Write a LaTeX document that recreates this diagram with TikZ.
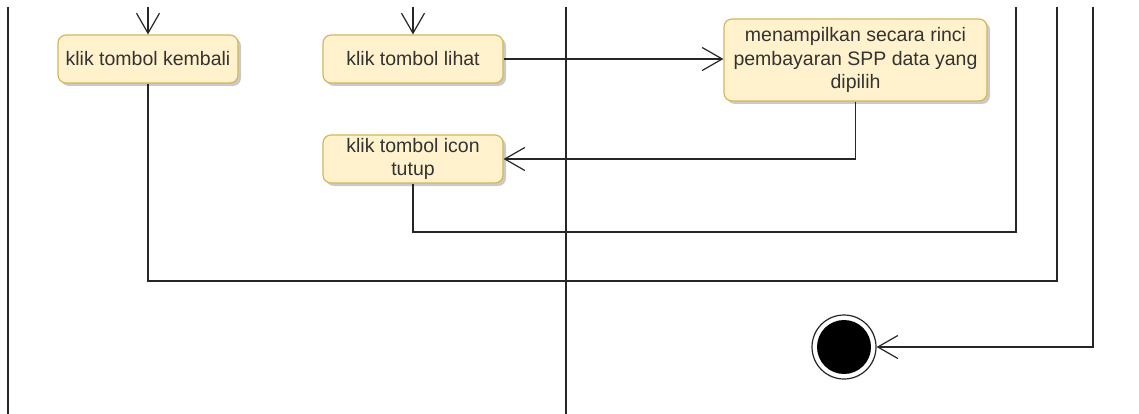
\documentclass[tikz,border=0pt]{standalone}
\usepackage{fontspec}
\setmainfont{Liberation Sans}
\usetikzlibrary{arrows.meta,shadows}
\definecolor{boxfill}{HTML}{FFF2CC}
\definecolor{boxline}{HTML}{D6B656}
\definecolor{txt}{HTML}{333333}
\tikzset{
  actbox/.style={rectangle, rounded corners=8pt, draw=boxline, fill=boxfill, line width=1.2pt,
    minimum width=180pt, minimum height=48pt, inner sep=2pt, align=center, text=txt,
    font=\fontsize{19.5}{23.5}\selectfont,
    drop shadow={shadow xshift=3pt, shadow yshift=-3pt, fill=black!35, opacity=0.6}},
  flow/.style={line width=1.2pt, draw=black!85},
  arr/.style={flow, -{Straight Barb[length=20pt, width=23pt, line width=1.2pt]}},
}
\begin{document}
\begin{tikzpicture}[x=1pt, y=-1pt]
\useasboundingbox (0,0) rectangle (1139,414);
% swimlane separators
\coordinate (l1t) at (8,7);
\coordinate (l1b) at (8,414);
\coordinate (l2t) at (566,7);
\coordinate (l2b) at (566,414);
\draw[flow] (l1t) -- (l1b);
\draw[flow] (l2t) -- (l2b);
% nodes
\node[actbox] (kembali) at (148,59) {klik tombol kembali};
\node[actbox] (lihat) at (413,59) {klik tombol lihat};
\node[actbox] (tutup) at (413,159) {klik tombol icon\\tutup};
\node[actbox, minimum width=263pt, minimum height=82pt] (tampil) at (855.5,60)
  {menampilkan secara rinci\\pembayaran SPP data yang\\dipilih};
\node[circle, draw=black!85, fill=white, line width=1.2pt, minimum size=64pt, inner sep=0pt] (end) at (844,347) {};
\fill[black] (end.center) circle (27pt);
% incoming from top
\coordinate (ka) at (148,7);
\coordinate (la) at (413,7);
\draw[arr] (ka) -- (kembali.north);
\draw[arr] (la) -- (lihat.north);
% flows
\draw[arr] (lihat.east) -- (tampil.west |- lihat.east);
\draw[arr] (tampil.south) |- (tutup.east);
\coordinate (t1) at (1016,7);
\coordinate (t2) at (1057,7);
\coordinate (t3) at (1093,7);
\draw[flow] (tutup.south) |- (1016,232) -- (t1);
\draw[flow] (kembali.south) |- (1057,281) -- (t2);
\draw[arr] (t3) |- (end.east);
\end{tikzpicture}
\end{document}
